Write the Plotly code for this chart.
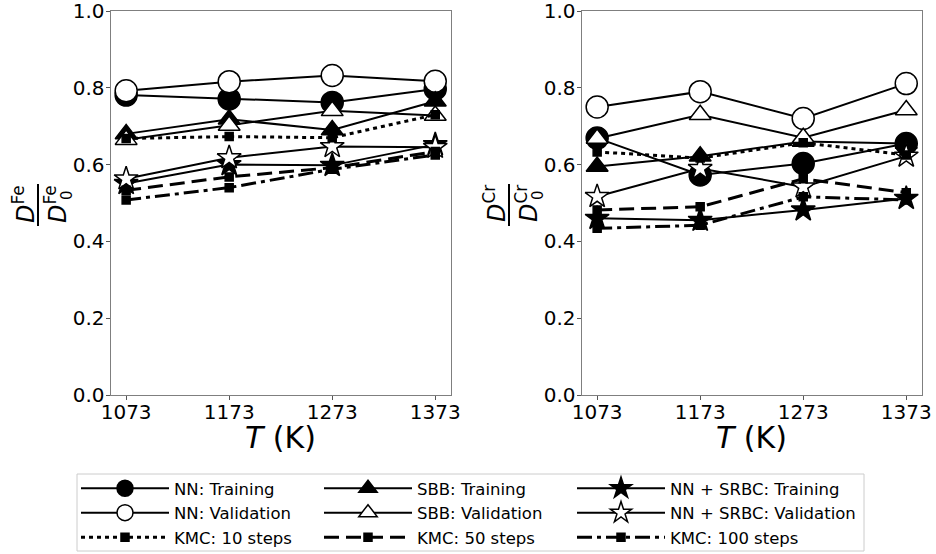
import plotly.graph_objects as go
from plotly.subplots import make_subplots

W, H = 936, 554

T = [1073, 1173, 1273, 1373]
tick_labels = ["1073", "1173", "1273", "1373"]
y_ticks = [0.0, 0.2, 0.4, 0.6, 0.8, 1.0]

# Fe panel
nn_train_fe = [0.781, 0.771, 0.762, 0.797]
nn_val_fe = [0.792, 0.816, 0.832, 0.817]
sbb_train_fe = [0.680, 0.718, 0.690, 0.765]
sbb_val_fe = [0.665, 0.702, 0.740, 0.728]
srbc_train_fe = [0.551, 0.600, 0.598, 0.652]
srbc_val_fe = [0.563, 0.618, 0.647, 0.645]
kmc10_fe = [0.668, 0.673, 0.670, 0.730]
kmc50_fe = [0.533, 0.568, 0.592, 0.634]
kmc100_fe = [0.508, 0.540, 0.588, 0.625]

# Cr panel
nn_train_cr = [0.669, 0.573, 0.603, 0.655]
nn_val_cr = [0.750, 0.790, 0.720, 0.811]
sbb_train_cr = [0.595, 0.622, 0.660, 0.655]
sbb_val_cr = [0.668, 0.730, 0.670, 0.742]
srbc_train_cr = [0.460, 0.455, 0.482, 0.512]
srbc_val_cr = [0.517, 0.590, 0.542, 0.622]
kmc10_cr = [0.633, 0.617, 0.657, 0.625]
kmc50_cr = [0.482, 0.490, 0.563, 0.527]
kmc100_cr = [0.434, 0.442, 0.516, 0.508]

labels = ["NN: Training", "NN: Validation", "SBB: Training", "SBB: Validation",
          "NN + SRBC: Training", "NN + SRBC: Validation",
          "KMC: 10 steps", "KMC: 50 steps", "KMC: 100 steps"]

FONT = "DejaVu Sans"

def px_x(p):
    return p / W

def px_y(p):
    return 1 - p / H

styles = {
    "NN: Training": dict(symbol="circle", size=22, fill="black", dash="solid", lw=2, leg="legend"),
    "NN: Validation": dict(symbol="circle", size=22, fill="white", dash="solid", lw=2, leg="legend"),
    "SBB: Training": dict(symbol="triangle-up", size=19, fill="black", dash="solid", lw=2, leg="legend2"),
    "SBB: Validation": dict(symbol="triangle-up", size=19, fill="white", dash="solid", lw=2, leg="legend2"),
    "NN + SRBC: Training": dict(symbol="star", size=18, fill="black", dash="solid", lw=2, leg="legend3"),
    "NN + SRBC: Validation": dict(symbol="star", size=18, fill="white", dash="solid", lw=2, leg="legend3"),
    "KMC: 10 steps": dict(symbol="square", size=8, fill="black", dash="4px,4px", lw=3, leg="legend"),
    "KMC: 50 steps": dict(symbol="square", size=8, fill="black", dash="15px,7px", lw=3, leg="legend2"),
    "KMC: 100 steps": dict(symbol="square", size=8, fill="black", dash="15px,5px,4px,5px", lw=3, leg="legend3"),
}

fe_series = {
    "NN: Training": nn_train_fe, "NN: Validation": nn_val_fe,
    "SBB: Training": sbb_train_fe, "SBB: Validation": sbb_val_fe,
    "NN + SRBC: Training": srbc_train_fe, "NN + SRBC: Validation": srbc_val_fe,
    "KMC: 10 steps": kmc10_fe, "KMC: 50 steps": kmc50_fe, "KMC: 100 steps": kmc100_fe,
}
cr_series = {
    "NN: Training": nn_train_cr, "NN: Validation": nn_val_cr,
    "SBB: Training": sbb_train_cr, "SBB: Validation": sbb_val_cr,
    "NN + SRBC: Training": srbc_train_cr, "NN + SRBC: Validation": srbc_val_cr,
    "KMC: 10 steps": kmc10_cr, "KMC: 50 steps": kmc50_cr, "KMC: 100 steps": kmc100_cr,
}

fig = make_subplots(rows=1, cols=2)

for col, series in ((1, fe_series), (2, cr_series)):
    for name in labels:
        st = styles[name]
        fig.add_trace(go.Scatter(
            x=T, y=series[name], name=name, mode="lines+markers",
            line=dict(color="black", width=st["lw"], dash=st["dash"]),
            marker=dict(symbol=st["symbol"], size=st["size"], color=st["fill"],
                        line=dict(color="black", width=1.5)),
            legend=st["leg"], showlegend=(col == 1),
        ), row=1, col=col)

axis_common = dict(
    showline=True, linecolor="#7f7f7f", linewidth=1.2, mirror=True,
    ticks="outside", ticklen=4, tickcolor="#555555", tickwidth=1,
    showgrid=False, zeroline=False, automargin=False,
    ticklabeloverflow="allow",
    tickfont=dict(family=FONT, size=20, color="black"),
)

x_dom1 = [px_x(110.7), px_x(450.7)]
x_dom2 = [px_x(581.7), px_x(921.7)]
y_dom = [px_y(395), px_y(11)]

for i, dom in ((1, x_dom1), (2, x_dom2)):
    fig.update_xaxes(row=1, col=i, domain=dom, range=[1058, 1388],
                     tickvals=T, ticktext=tick_labels, ticklabelstandoff=-5,
                     **axis_common)
    fig.update_yaxes(row=1, col=i, domain=y_dom, range=[0, 1],
                     tickvals=y_ticks, ticktext=[f"{v:.1f}" for v in y_ticks],
                     ticklabelstandoff=-3,
                     **axis_common)

annotations = []
shapes = []
for off, el in ((0, "Fe"), (471, "Cr")):
    # x axis title
    annotations.append(dict(
        x=px_x(280.7 + off), y=px_y(437), xref="paper", yref="paper",
        text="<i>T</i> (K)", showarrow=False, xanchor="center", yanchor="middle",
        font=dict(family=FONT, size=30, color="black")))
    # y axis title: fraction D^el / D_0^el
    annotations.append(dict(
        x=px_x(24 + off), y=px_y(204), xref="paper", yref="paper",
        text=f"<i>D</i><sup>{el}</sup>", textangle=-90, showarrow=False,
        xanchor="center", yanchor="middle",
        font=dict(family=FONT, size=24, color="black")))
    annotations.append(dict(
        x=px_x(56 + off), y=px_y(204), xref="paper", yref="paper",
        text=f"<i>D</i><sup>{el}</sup>", textangle=-90, showarrow=False,
        xanchor="center", yanchor="middle",
        font=dict(family=FONT, size=24, color="black")))
    annotations.append(dict(
        x=px_x(67 + off), y=px_y(195), xref="paper", yref="paper",
        text="0", textangle=-90, showarrow=False,
        xanchor="center", yanchor="middle",
        font=dict(family=FONT, size=15, color="black")))
    shapes.append(dict(type="line", xref="paper", yref="paper",
                       x0=px_x(38 + off), x1=px_x(38 + off),
                       y0=px_y(184), y1=px_y(226),
                       line=dict(color="black", width=2)))

# legend frame
shapes.append(dict(type="rect", xref="paper", yref="paper", layer="below",
                   x0=px_x(77), x1=px_x(864), y0=px_y(551), y1=px_y(474),
                   line=dict(color="#cccccc", width=1), fillcolor="white"))

leg_common = dict(orientation="v", xanchor="left", yanchor="top",
                  bgcolor="rgba(0,0,0,0)", borderwidth=0,
                  font=dict(family=FONT, size=16.5, color="black"),
                  itemwidth=88, traceorder="normal")

fig.update_layout(
    width=W, height=H,
    margin=dict(l=0, r=0, t=0, b=0, autoexpand=False),
    paper_bgcolor="white", plot_bgcolor="white",
    font=dict(family=FONT, color="black"),
    annotations=annotations, shapes=shapes,
    legend=dict(x=px_x(76), y=px_y(471), **leg_common),
    legend2=dict(x=px_x(319), y=px_y(471), **leg_common),
    legend3=dict(x=px_x(572), y=px_y(471), **leg_common),
)

fig.write_html("out.html", config={"displayModeBar": False},
               post_script="document.body.style.margin='0';document.body.style.overflow='hidden';")
